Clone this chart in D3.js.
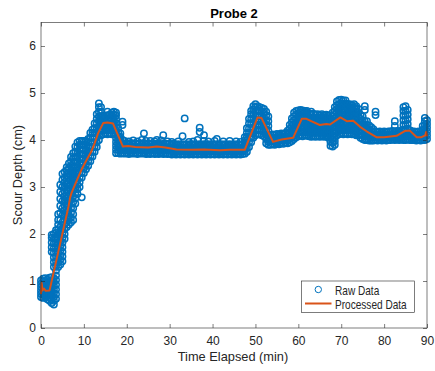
<!DOCTYPE html>
<html>
<head>
<meta charset="utf-8">
<script src="https://cdn.jsdelivr.net/npm/d3@7/dist/d3.min.js"></script>
<style>
  body { margin: 0; background: #fff; }
  svg { display: block; font-family: "Liberation Sans", Arial, sans-serif; }
</style>
</head>
<body>
<svg id="chart" width="435" height="371"></svg>
<script>
const xTicks = [0, 10, 20, 30, 40, 50, 60, 70, 80, 90];
const yTicks = [0, 1, 2, 3, 4, 5, 6];

// Processed (smoothed) series
const procTime  = [0, 0.15, 0.35, 0.7, 1.1, 2.0, 6.4, 6.8, 7.1, 8.2, 9.4, 10.6, 11.7, 12.5, 13.3, 14.5, 15.5, 16.8, 19.1, 20.3, 22, 25, 27, 29, 31.6, 35, 38, 41.7, 44, 47.5, 50.5, 51.4, 54.1, 56.1, 58.8, 60.8, 61.9, 63, 65, 66.5, 67.4, 69.8, 71.3, 72.8, 74.4, 76, 78.2, 80, 82.9, 84.8, 86, 87.6, 88.7, 89.6, 89.8, 90];
const procDepth = [0.72, 0.96, 0.8, 0.84, 0.79, 0.8, 2.58, 2.78, 2.87, 3.11, 3.36, 3.57, 3.75, 3.93, 4.14, 4.36, 4.37, 4.35, 3.86, 3.87, 3.85, 3.84, 3.86, 3.84, 3.8, 3.79, 3.8, 3.78, 3.79, 3.79, 4.48, 4.47, 3.96, 4.01, 4.05, 4.45, 4.45, 4.4, 4.32, 4.34, 4.33, 4.48, 4.4, 4.41, 4.28, 4.18, 4.06, 4.06, 4.09, 4.19, 4.2, 4.06, 4.06, 4.1, 4.17, 4.08];

// Raw readings: [time, depth, depth, ...]
const rawColumns = [
  [0, 0.66, 0.73, 0.8, 0.87, 0.94, 1.01],
  [0.5, 0.64, 0.71, 0.78, 0.85, 0.92, 0.99, 1.05],
  [1, 0.65, 0.72, 0.79, 0.86, 0.93, 1.0, 1.06],
  [1.5, 0.61, 0.68, 0.75, 0.82, 0.89, 0.96, 1.03],
  [2, 0.58, 0.65, 0.72, 0.79, 0.86, 0.93, 1.0, 1.07],
  [2.5, 0.53, 0.6, 0.68, 0.76, 0.84, 0.92, 1.0, 1.08, 1.62, 1.72, 1.82, 1.92, 1.98],
  [3, 0.5, 0.58, 0.66, 0.74, 0.82, 0.9, 0.98, 1.06, 1.3, 1.4, 1.5, 1.6, 1.7, 1.8, 1.9, 2.0],
  [3.5, 0.62, 0.72, 0.82, 0.92, 1.02, 1.12, 1.22, 1.32, 1.42, 1.52, 1.62, 1.72, 1.82, 1.92, 2.02, 2.08],
  [4, 1.3, 1.4, 1.5, 1.6, 1.7, 1.8, 1.9, 2.0, 2.1, 2.2, 2.3, 2.42],
  [4.5, 1.35, 1.45, 1.55, 1.65, 1.75, 1.85, 1.95, 2.05, 2.15, 2.3, 2.45, 2.6, 2.75, 2.9, 3.05],
  [5, 1.42, 1.52, 1.62, 1.72, 1.82, 1.92, 2.02, 2.12, 2.25, 2.4, 2.55, 2.7, 2.85, 3.0, 3.15, 3.28],
  [5.5, 1.9, 2.0, 2.1, 2.2, 2.3, 2.4, 2.5, 2.6, 2.7, 2.8, 2.9, 3.0, 3.1, 3.2, 3.32],
  [6, 2.15, 2.25, 2.35, 2.45, 2.55, 2.65, 2.75, 2.85, 2.95, 3.05, 3.15, 3.25, 3.35, 3.42],
  [6.5, 2.2, 2.3, 2.4, 2.5, 2.6, 2.7, 2.8, 2.9, 3.0, 3.1, 3.2, 3.3, 3.4, 3.5],
  [7, 2.25, 2.35, 2.45, 2.55, 2.65, 2.75, 2.85, 2.95, 3.05, 3.15, 3.25, 3.35, 3.45, 3.55, 3.64],
  [7.5, 2.3, 2.42, 2.55, 2.68, 2.8, 2.92, 3.04, 3.16, 3.28, 3.4, 3.52, 3.62, 3.72],
  [8, 2.65, 2.76, 2.87, 2.98, 3.09, 3.2, 3.31, 3.42, 3.53, 3.64, 3.75, 3.86],
  [8.5, 2.85, 2.95, 3.05, 3.15, 3.25, 3.35, 3.45, 3.55, 3.65, 3.75, 3.85, 3.95],
  [9, 3.0, 3.1, 3.2, 3.3, 3.4, 3.5, 3.6, 3.7, 3.8, 3.9, 3.98],
  [9.5, 2.78, 3.2, 3.3, 3.4, 3.5, 3.6, 3.7, 3.8, 3.9, 3.98],
  [10, 3.3, 3.4, 3.5, 3.6, 3.7, 3.8, 3.9, 3.98],
  [10.5, 3.38, 3.48, 3.58, 3.68, 3.78, 3.88, 3.98],
  [11, 3.45, 3.55, 3.65, 3.75, 3.85, 3.95, 4.02],
  [11.5, 3.55, 3.65, 3.75, 3.85, 3.95, 4.05, 4.15],
  [12, 3.65, 3.75, 3.85, 3.95, 4.05, 4.15, 4.22],
  [12.5, 3.75, 3.85, 3.95, 4.05, 4.15, 4.25, 4.35],
  [13, 3.85, 3.95, 4.05, 4.15, 4.25, 4.35, 4.45, 4.55],
  [13.5, 4.0, 4.1, 4.2, 4.3, 4.4, 4.5, 4.6, 4.7, 4.78],
  [14, 4.1, 4.2, 4.3, 4.4, 4.5, 4.6, 4.7],
  [14.5, 4.12, 4.2, 4.28, 4.36, 4.44, 4.52],
  [15, 4.14, 4.22, 4.3, 4.38, 4.46, 4.52],
  [15.5, 4.12, 4.2, 4.28, 4.36, 4.44, 4.52, 4.6],
  [16, 4.14, 4.22, 4.3, 4.38, 4.46, 4.54],
  [16.5, 4.12, 4.2, 4.28, 4.36, 4.44, 4.52, 4.58],
  [17, 4.14, 4.22, 4.3, 4.38, 4.46, 4.54, 4.6],
  [17.5, 3.72, 3.8, 3.88, 3.96, 4.04, 4.12, 4.2, 4.28, 4.36, 4.44, 4.52, 4.58],
  [18, 3.72, 3.79, 3.86, 3.93, 4.0, 4.08, 4.16, 4.25],
  [18.5, 3.71, 3.78, 3.85, 3.92, 3.99, 4.07, 4.14],
  [19, 3.72, 3.79, 3.86, 3.93, 4.0, 4.32, 4.39],
  [19.5, 3.71, 3.78, 3.85, 3.92, 3.98],
  [20, 3.72, 3.79, 3.86, 3.93],
  [20.5, 3.7, 3.77, 3.84, 3.91, 3.97],
  [21, 3.72, 3.79, 3.86, 3.93],
  [21.5, 3.71, 3.78, 3.85, 3.92, 3.99],
  [22, 3.72, 3.79, 3.86, 3.93],
  [22.5, 3.7, 3.77, 3.84, 3.91, 3.97],
  [23, 3.72, 3.79, 3.86, 3.93],
  [23.5, 3.71, 3.78, 3.85, 3.92, 4.0],
  [24, 3.72, 3.79, 3.86, 3.93, 4.14],
  [24.5, 3.7, 3.77, 3.84, 3.91, 3.98],
  [25, 3.71, 3.78, 3.85, 3.92],
  [25.5, 3.7, 3.77, 3.84, 3.91, 3.98],
  [26, 3.72, 3.79, 3.86, 3.93],
  [26.5, 3.7, 3.77, 3.84, 3.91, 3.97],
  [27, 3.71, 3.78, 3.85, 3.92, 4.0],
  [27.5, 3.7, 3.77, 3.84, 3.91],
  [28, 3.72, 3.79, 3.86, 3.93, 3.99],
  [28.5, 3.7, 3.77, 3.84, 3.91, 4.1],
  [29, 3.71, 3.78, 3.85, 3.92],
  [29.5, 3.7, 3.77, 3.84, 3.91, 3.97],
  [30, 3.71, 3.78, 3.85, 3.92],
  [30.5, 3.69, 3.76, 3.83, 3.9, 3.96],
  [31, 3.71, 3.78, 3.85, 3.92],
  [31.5, 3.69, 3.76, 3.83, 3.9],
  [32, 3.7, 3.77, 3.84, 3.91, 3.97],
  [32.5, 3.69, 3.76, 3.83, 3.9],
  [33, 3.7, 3.77, 3.84, 3.91, 4.08],
  [33.5, 3.69, 3.76, 3.83, 3.9, 4.46],
  [34, 3.7, 3.77, 3.84, 3.91],
  [34.5, 3.69, 3.76, 3.83, 3.9, 3.96],
  [35, 3.7, 3.77, 3.84, 3.91],
  [35.5, 3.69, 3.76, 3.83, 3.9, 3.97],
  [36, 3.7, 3.77, 3.84, 3.91],
  [36.5, 3.69, 3.76, 3.83, 3.9, 4.0],
  [37, 3.7, 3.77, 3.84, 3.91, 4.17, 4.26],
  [37.5, 3.69, 3.76, 3.83, 3.9],
  [38, 3.7, 3.77, 3.84, 3.91, 3.98, 4.1],
  [38.5, 3.69, 3.76, 3.83, 3.9],
  [39, 3.7, 3.77, 3.84, 3.91, 3.97],
  [39.5, 3.69, 3.76, 3.83, 3.9],
  [40, 3.7, 3.77, 3.84, 3.91],
  [40.5, 3.69, 3.76, 3.83, 3.9, 3.98],
  [41, 3.7, 3.77, 3.84, 3.91, 4.02],
  [41.5, 3.69, 3.76, 3.83, 3.9],
  [42, 3.7, 3.77, 3.84, 3.91],
  [42.5, 3.69, 3.76, 3.83, 3.9, 3.97],
  [43, 3.7, 3.77, 3.84, 3.91],
  [43.5, 3.69, 3.76, 3.83, 3.9],
  [44, 3.7, 3.77, 3.84, 3.91, 3.98],
  [44.5, 3.69, 3.76, 3.83, 3.9],
  [45, 3.7, 3.77, 3.84, 3.91],
  [45.5, 3.69, 3.76, 3.83, 3.9, 3.97],
  [46, 3.7, 3.77, 3.84, 3.91],
  [46.5, 3.69, 3.76, 3.83, 3.9, 3.96],
  [47, 3.7, 3.77, 3.84, 3.91],
  [47.5, 3.71, 3.78, 3.85, 3.92, 3.99, 4.06],
  [48, 3.75, 3.83, 3.91, 3.99, 4.07, 4.15, 4.25],
  [48.5, 3.85, 3.95, 4.05, 4.15, 4.25, 4.35, 4.45],
  [49, 3.95, 4.05, 4.15, 4.25, 4.35, 4.45, 4.55, 4.62],
  [49.5, 4.05, 4.15, 4.25, 4.35, 4.45, 4.55, 4.65, 4.72],
  [50, 4.1, 4.2, 4.3, 4.4, 4.5, 4.6, 4.7, 4.76],
  [50.5, 4.12, 4.22, 4.32, 4.42, 4.52, 4.62, 4.72],
  [51, 4.12, 4.22, 4.32, 4.42, 4.52, 4.62, 4.7],
  [51.5, 4.1, 4.2, 4.3, 4.4, 4.5, 4.6, 4.68],
  [52, 4.08, 4.18, 4.28, 4.38, 4.48, 4.58, 4.66],
  [52.5, 3.93, 4.02, 4.12, 4.22, 4.32, 4.42, 4.52, 4.6],
  [53, 3.9, 3.97, 4.04, 4.11, 4.2, 4.3, 4.4, 4.5],
  [53.5, 3.9, 3.97, 4.04, 4.11],
  [54, 3.91, 3.98, 4.05, 4.12],
  [54.5, 3.9, 3.97, 4.04, 4.11],
  [55, 3.92, 3.99, 4.06, 4.13],
  [55.5, 3.91, 3.98, 4.05, 4.12],
  [56, 3.93, 4.0, 4.07, 4.14],
  [56.5, 3.92, 3.99, 4.06, 4.13],
  [57, 3.94, 4.01, 4.08, 4.15],
  [57.5, 3.93, 4.0, 4.07, 4.14, 4.2],
  [58, 3.95, 4.02, 4.09, 4.16, 4.24, 4.32],
  [58.5, 3.98, 4.06, 4.14, 4.22, 4.3, 4.38, 4.46],
  [59, 4.02, 4.1, 4.18, 4.26, 4.34, 4.42, 4.5, 4.58],
  [59.5, 4.06, 4.14, 4.22, 4.3, 4.38, 4.46, 4.54, 4.62],
  [60, 4.08, 4.16, 4.24, 4.32, 4.4, 4.48, 4.56, 4.63],
  [60.5, 4.1, 4.18, 4.26, 4.34, 4.42, 4.5, 4.58, 4.64],
  [61, 4.08, 4.16, 4.24, 4.32, 4.4, 4.48, 4.56, 4.63],
  [61.5, 4.1, 4.18, 4.26, 4.34, 4.42, 4.5, 4.58, 4.62],
  [62, 4.09, 4.17, 4.25, 4.33, 4.41, 4.49, 4.57, 4.62],
  [62.5, 4.08, 4.16, 4.24, 4.32, 4.4, 4.48, 4.56],
  [63, 4.07, 4.15, 4.23, 4.31, 4.39, 4.47, 4.55, 4.6],
  [63.5, 4.08, 4.16, 4.24, 4.32, 4.4, 4.48, 4.56],
  [64, 4.07, 4.15, 4.23, 4.31, 4.39, 4.47, 4.54],
  [64.5, 4.08, 4.16, 4.24, 4.32, 4.4, 4.48, 4.55],
  [65, 4.07, 4.15, 4.23, 4.31, 4.39, 4.47, 4.53],
  [65.5, 4.08, 4.16, 4.24, 4.32, 4.4, 4.48, 4.55],
  [66, 4.07, 4.15, 4.23, 4.31, 4.39, 4.47, 4.52],
  [66.5, 4.08, 4.16, 4.24, 4.32, 4.4, 4.48, 4.54],
  [67, 4.05, 4.13, 4.21, 4.29, 4.37, 4.45, 4.52],
  [67.5, 3.88, 3.96, 4.04, 4.12, 4.2, 4.28, 4.36, 4.44, 4.52],
  [68, 3.86, 3.94, 4.02, 4.1, 4.18, 4.26, 4.34, 4.42, 4.5, 4.58],
  [68.5, 3.9, 3.98, 4.06, 4.14, 4.22, 4.3, 4.38, 4.46, 4.54, 4.62, 4.7],
  [69, 4.1, 4.18, 4.26, 4.34, 4.42, 4.5, 4.58, 4.66, 4.74, 4.82],
  [69.5, 4.12, 4.2, 4.28, 4.36, 4.44, 4.52, 4.6, 4.68, 4.76, 4.85],
  [70, 4.14, 4.22, 4.3, 4.38, 4.46, 4.54, 4.62, 4.7, 4.78, 4.86],
  [70.5, 4.12, 4.2, 4.28, 4.36, 4.44, 4.52, 4.6, 4.68, 4.76, 4.84],
  [71, 4.14, 4.22, 4.3, 4.38, 4.46, 4.54, 4.62, 4.7, 4.78, 4.84],
  [71.5, 4.12, 4.2, 4.28, 4.36, 4.44, 4.52, 4.6, 4.68, 4.76],
  [72, 4.13, 4.21, 4.29, 4.37, 4.45, 4.53, 4.61, 4.69, 4.76],
  [72.5, 4.12, 4.2, 4.28, 4.36, 4.44, 4.52, 4.6, 4.68, 4.74],
  [73, 4.13, 4.21, 4.29, 4.37, 4.45, 4.53, 4.61, 4.69, 4.76],
  [73.5, 4.1, 4.18, 4.26, 4.34, 4.42, 4.5, 4.58, 4.66, 4.72],
  [74, 4.1, 4.18, 4.26, 4.34, 4.42, 4.5, 4.58, 4.66],
  [74.5, 4.05, 4.13, 4.21, 4.29, 4.37, 4.45, 4.53],
  [75, 4.02, 4.1, 4.18, 4.26, 4.34, 4.42, 4.5],
  [75.5, 4.0, 4.08, 4.16, 4.24, 4.32, 4.4, 4.64, 4.72],
  [76, 4.0, 4.08, 4.16, 4.24, 4.32, 4.4],
  [76.5, 3.99, 4.07, 4.15, 4.23, 4.31],
  [77, 3.99, 4.06, 4.13, 4.2, 4.27],
  [77.5, 3.99, 4.05, 4.11, 4.17, 4.23],
  [78, 4.0, 4.06, 4.12, 4.18, 4.53, 4.6],
  [78.5, 3.99, 4.05, 4.11, 4.17],
  [79, 4.0, 4.06, 4.12, 4.18],
  [79.5, 3.99, 4.05, 4.11, 4.17],
  [80, 4.0, 4.06, 4.12, 4.18],
  [80.5, 3.99, 4.05, 4.11, 4.17],
  [81, 4.0, 4.06, 4.12, 4.18],
  [81.5, 4.0, 4.06, 4.12, 4.18],
  [82, 4.01, 4.07, 4.13, 4.19],
  [82.5, 4.0, 4.06, 4.12, 4.18, 4.3, 4.4],
  [83, 4.01, 4.07, 4.13, 4.19],
  [83.5, 4.0, 4.06, 4.12, 4.18],
  [84, 4.01, 4.07, 4.13, 4.2],
  [84.5, 4.0, 4.07, 4.14, 4.22, 4.32, 4.42, 4.52, 4.62, 4.7],
  [85, 4.0, 4.07, 4.14, 4.22, 4.32, 4.42, 4.52, 4.62, 4.72],
  [85.5, 4.01, 4.08, 4.15, 4.24, 4.34, 4.44, 4.54, 4.64],
  [86, 4.0, 4.07, 4.14, 4.21],
  [86.5, 4.0, 4.06, 4.12, 4.18],
  [87, 4.0, 4.06, 4.12, 4.18],
  [87.5, 3.99, 4.05, 4.11, 4.17],
  [88, 4.0, 4.06, 4.12, 4.18],
  [88.5, 3.99, 4.05, 4.11, 4.17],
  [89, 4.0, 4.07, 4.14, 4.22, 4.3],
  [89.5, 4.0, 4.08, 4.16, 4.24, 4.32, 4.4, 4.47],
  [90, 4.02, 4.1, 4.18, 4.26, 4.34, 4.42]
];

const BLUE = '#0072BD';
const ORANGE = '#D95319';
const AXIS = '#262626';

const svg = d3.select('#chart');
svg.append('rect').attr('width', 435).attr('height', 371).attr('fill', '#fff');

const x = d3.scaleLinear().domain([0, 90]).range([41, 427]);
const y = d3.scaleLinear().domain([0, 6.5]).range([328, 22.5]);

const rawPoints = [];
rawColumns.forEach(col => {
  col.slice(1).forEach(d => rawPoints.push({ t: col[0], d }));
});

// Raw data markers
svg.append('g')
  .selectAll('circle')
  .data(rawPoints)
  .join('circle')
  .attr('cx', d => x(d.t))
  .attr('cy', d => y(d.d))
  .attr('r', 3.2)
  .attr('fill', 'none')
  .attr('stroke', BLUE)
  .attr('stroke-width', 1.5);

// Processed line
const procData = procTime.map((t, i) => ({ t, d: procDepth[i] }));
svg.append('path')
  .datum(procData)
  .attr('fill', 'none')
  .attr('stroke', ORANGE)
  .attr('stroke-width', 2)
  .attr('stroke-linejoin', 'round')
  .attr('d', d3.line().x(d => x(d.t)).y(d => y(d.d)));

// Axes box with inward ticks on all four sides
function styleAxis(g) {
  g.select('.domain').remove();
  g.selectAll('.tick line').attr('stroke', AXIS).attr('stroke-width', 0.6);
  g.selectAll('.tick text')
    .attr('fill', AXIS)
    .attr('font-size', 12)
    .attr('font-family', '"Liberation Sans", Arial, sans-serif');
}

const fmt = d3.format('d');
svg.append('g')
  .attr('transform', 'translate(0,328)')
  .call(d3.axisBottom(x).tickValues(xTicks).tickFormat(fmt).tickSize(-4).tickPadding(8.5))
  .call(styleAxis);
svg.append('g')
  .attr('transform', 'translate(0,22.5)')
  .call(d3.axisTop(x).tickValues(xTicks).tickSize(-4).tickFormat(''))
  .call(styleAxis);
svg.append('g')
  .attr('transform', 'translate(41,0)')
  .call(d3.axisLeft(y).tickValues(yTicks).tickFormat(fmt).tickSize(-4).tickPadding(5))
  .call(styleAxis);
svg.append('g')
  .attr('transform', 'translate(427,0)')
  .call(d3.axisRight(y).tickValues(yTicks).tickSize(-4).tickFormat(''))
  .call(styleAxis);

svg.append('rect')
  .attr('x', 41).attr('y', 22.5)
  .attr('width', 386).attr('height', 305.5)
  .attr('fill', 'none')
  .attr('stroke', AXIS)
  .attr('stroke-width', 0.6);

// Titles
svg.append('text')
  .attr('x', 234).attr('y', 18.3)
  .attr('text-anchor', 'middle')
  .attr('font-size', 13).attr('font-weight', 'bold')
  .attr('fill', '#000')
  .text('Probe 2');

svg.append('text')
  .attr('x', 233).attr('y', 361)
  .attr('text-anchor', 'middle')
  .attr('font-size', 12.8)
  .attr('fill', AXIS)
  .text('Time Elapsed (min)');

svg.append('text')
  .attr('transform', 'translate(22,175) rotate(-90)')
  .attr('text-anchor', 'middle')
  .attr('font-size', 12.8)
  .attr('fill', AXIS)
  .text('Scour Depth (cm)');

// Legend
const legend = svg.append('g');
legend.append('rect')
  .attr('x', 301.5).attr('y', 281)
  .attr('width', 113).attr('height', 31.5)
  .attr('fill', '#fff')
  .attr('stroke', AXIS)
  .attr('stroke-width', 0.6);
legend.append('circle')
  .attr('cx', 318.3).attr('cy', 289.5)
  .attr('r', 3.2)
  .attr('fill', 'none')
  .attr('stroke', BLUE)
  .attr('stroke-width', 1);
legend.append('line')
  .attr('x1', 305).attr('x2', 331.5)
  .attr('y1', 303.5).attr('y2', 303.5)
  .attr('stroke', ORANGE)
  .attr('stroke-width', 2);
legend.append('text')
  .attr('transform', 'translate(335,295) scale(0.84,1)')
  .attr('font-size', 12)
  .attr('fill', AXIS)
  .text('Raw Data');
legend.append('text')
  .attr('transform', 'translate(335,308.5) scale(0.84,1)')
  .attr('font-size', 12)
  .attr('fill', AXIS)
  .text('Processed Data');
</script>
</body>
</html>
